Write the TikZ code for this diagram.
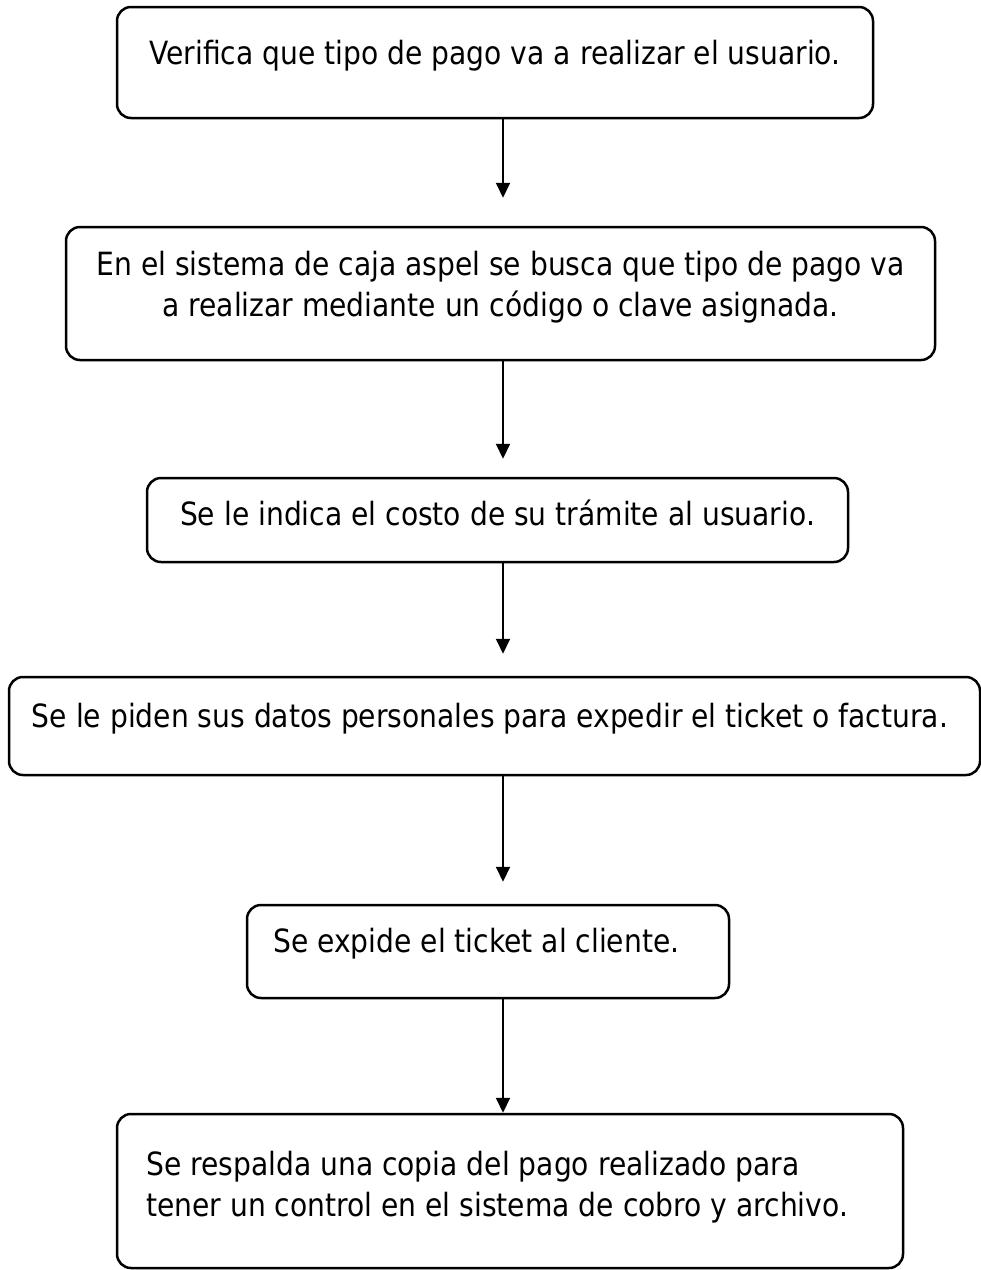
\documentclass[tikz,border=0pt]{standalone}
\usepackage{fontspec}
\setmainfont[FakeStretch=0.88]{DejaVu Sans}
\usetikzlibrary{arrows.meta}
\begin{document}
\begin{tikzpicture}[x=1pt,y=-1pt,
  box/.style={draw=black, line width=2.5pt, rounded corners=14pt, inner sep=0pt},
  txt/.style={inner sep=0pt, font=\fontsize{32}{41}\selectfont},
  flow/.style={draw=black, line width=2pt, -{Triangle[length=15pt,width=14pt]}}]
\useasboundingbox (0,0) rectangle (981,1270);
% boxes
\node[box, minimum width=756pt, minimum height=111pt] (b1) at (495,62.5) {};
\node[box, minimum width=869pt, minimum height=133pt] (b2) at (500.5,293.5) {};
\node[box, minimum width=701pt, minimum height=84pt] (b3) at (497.5,520) {};
\node[box, minimum width=971pt, minimum height=98pt] (b4) at (494.5,726) {};
\node[box, minimum width=482pt, minimum height=93pt] (b5) at (488,951.5) {};
\node[box, minimum width=786pt, minimum height=154pt] (b6) at (510,1191) {};
% texts
\node[txt, anchor=base] (t1) at (495,64) {Verifica que tipo de pago va a realizar el usuario.};
\node[txt, anchor=base] (t2) at (500.5,275) {\begin{tabular}[t]{@{}c@{}}En el sistema de caja aspel se busca que tipo de pago va\\ a realizar mediante un código o clave asignada.\end{tabular}};
\node[txt, anchor=base] (t3) at (497.5,525) {Se le indica el costo de su trámite al usuario.};
\node[txt, anchor=base] (t4) at (490,727) {Se le piden sus datos personales para expedir el ticket o factura.};
\node[txt, anchor=base west] (t5) at (273,952) {Se expide el ticket al cliente.};
\node[txt, anchor=base west] (t6) at (146,1175) {\begin{tabular}[t]{@{}l@{}}Se respalda una copia del pago realizado para\\ tener un control en el sistema de cobro y archivo.\end{tabular}};
% connectors
\coordinate (ax) at (503,0);
\draw[flow, shorten >=28pt] (b1.south -| ax) -- (b2.north -| ax);
\draw[flow, shorten >=18pt] (b2.south -| ax) -- (b3.north -| ax);
\draw[flow, shorten >=22pt] (b3.south -| ax) -- (b4.north -| ax);
\draw[flow, shorten >=22pt] (b4.south -| ax) -- (b5.north -| ax);
\draw[flow] (b5.south -| ax) -- (b6.north -| ax);
\end{tikzpicture}
\end{document}
